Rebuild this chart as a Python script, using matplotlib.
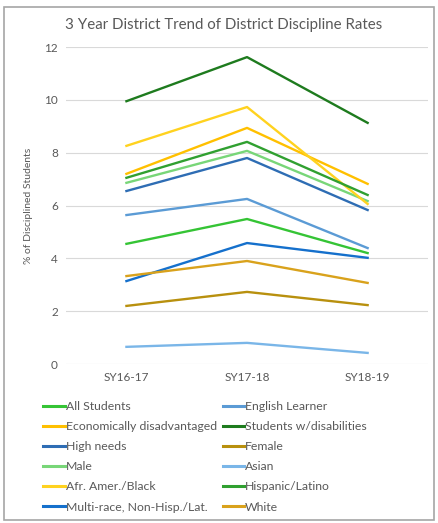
import matplotlib.pyplot as plt
from matplotlib.lines import Line2D
from matplotlib.patches import Rectangle

plt.rcParams['font.family'] = ['Lato', 'DejaVu Sans']

# ── Datos ────────────────────────────────────────────────────────────────────
years = ['SY16-17', 'SY17-18', 'SY18-19']

groups = ['All Students', 'English Learner', 'Economically disadvantaged',
          'Students w/disabilities', 'High needs', 'Female', 'Male', 'Asian',
          'Afr. Amer./Black', 'Hispanic/Latino', 'Multi-race, Non-Hisp./Lat.',
          'White']

all_students = [4.55, 5.49, 4.20]
english_learner = [5.64, 6.25, 4.39]
econ_disadv = [7.20, 8.94, 6.82]
swd = [9.95, 11.62, 9.13]
high_needs = [6.55, 7.80, 5.83]
female = [2.20, 2.73, 2.23]
male = [6.86, 8.07, 6.17]
asian = [0.65, 0.80, 0.42]
black = [8.26, 9.73, 6.06]
hispanic = [7.05, 8.41, 6.40]
multi_race = [3.14, 4.58, 4.02]
white = [3.33, 3.90, 3.07]

series = [all_students, english_learner, econ_disadv, swd, high_needs, female,
          male, asian, black, hispanic, multi_race, white]

colors = ['#35C435', '#5B9BD5', '#FFC000', '#1E7B1E', '#2E6DB4', '#B8900E',
          '#78D678', '#7AB6E8', '#FFD21F', '#30A030', '#1570CC', '#D9A21C']

fig = plt.figure(figsize=(4.38, 5.23), dpi=100)
ax = fig.add_axes([0.151, 0.304, 0.826, 0.606])

x = range(len(years))
for vals, c, name in zip(series, colors, groups):
    ax.plot(x, vals, color=c, lw=1.7, label=name)

ax.set_xlim(-0.5, 2.5)
ax.set_ylim(0, 12)
ax.set_yticks(range(0, 13, 2))
ax.set_xticks(list(x))
ax.set_xticklabels(years)
ax.grid(axis='y', color='#D9D9D9', lw=0.8)
ax.set_axisbelow(True)
for s in ax.spines.values():
    s.set_visible(False)
ax.tick_params(length=0, colors='#595959', labelsize=8.5, pad=6)
ax.set_ylabel('% of Disciplined Students', color='#595959', fontsize=7.5,
              labelpad=8)
fig.text(0.51, 0.952, '3 Year District Trend of District Discipline Rates',
         ha='center', va='center', fontsize=10.8, color='#595959')

# leyenda en orden por filas (2 columnas)
handles = [Line2D([], [], color=c, lw=2.2) for c in colors]
order = list(range(0, 12, 2)) + list(range(1, 12, 2))
fig.legend([handles[i] for i in order], [groups[i] for i in order],
           ncol=2, loc='upper left', bbox_to_anchor=(0.088, 0.243),
           frameon=False, fontsize=8.8, labelcolor='#595959',
           handlelength=1.75, handletextpad=0.1, columnspacing=0.45,
           labelspacing=0.75, borderaxespad=0)

fig.patches.append(Rectangle((0.008, 0.006), 0.982, 0.98, transform=fig.transFigure,
                             fill=False, edgecolor='#A6A6A6', lw=1.2))

plt.savefig('out.png', dpi=100)
